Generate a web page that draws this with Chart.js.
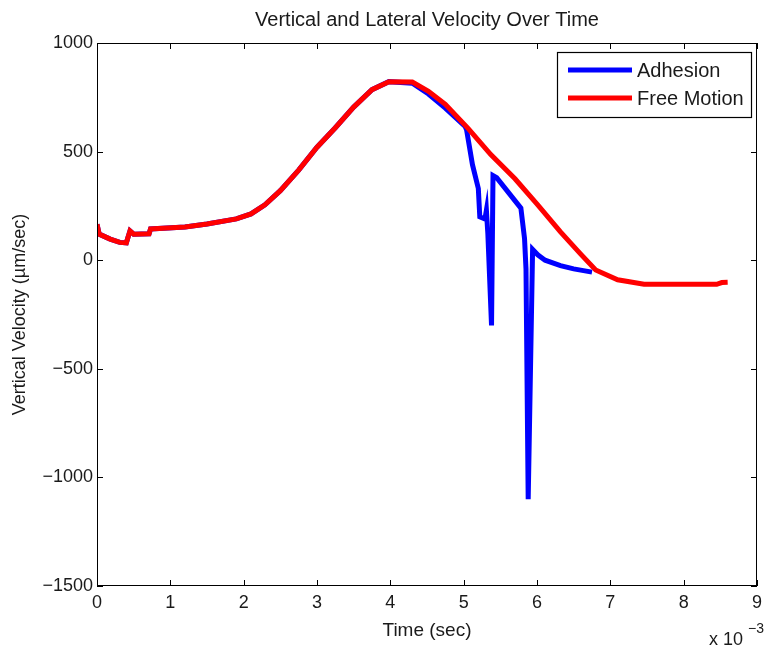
<!DOCTYPE html>
<html>
<head>
<meta charset="utf-8">
<script src="https://cdn.jsdelivr.net/npm/chart.js@4.4.0/dist/chart.umd.min.js"></script>
<style>
	body { margin: 0; background: #fff; }
	#canvas { display: block; }
</style>
</head>
<body>
<canvas id="canvas" width="768" height="652"></canvas>
<script>
// time in units of 1e-3 sec, velocity in um/sec
var freeTime = [0, 0.03, 0.18, 0.31, 0.40, 0.45, 0.50, 0.71, 0.73, 1.20, 1.50, 1.90, 2.10, 2.29, 2.50, 2.75, 3.00, 3.25, 3.50, 3.75, 3.98, 4.30, 4.52, 4.75, 5.06, 5.37, 5.70, 6.01, 6.32, 6.59, 6.80, 7.10, 7.46, 8.45, 8.52, 8.60];
var freeVel = [165, 120, 97, 82, 80, 135, 120, 122, 144, 153, 167, 190, 213, 255, 320, 415, 520, 610, 705, 785, 822, 820, 778, 718, 607, 486, 375, 255, 130, 30, -45, -90, -111, -111, -103, -102];

var adhTime = [0, 0.03, 0.18, 0.31, 0.40, 0.45, 0.50, 0.71, 0.73, 1.20, 1.50, 1.90, 2.10, 2.29, 2.50, 2.75, 3.00, 3.25, 3.50, 3.75, 3.98, 4.30, 4.52, 4.75, 5.02, 5.04, 5.12, 5.20, 5.22, 5.29, 5.31, 5.33, 5.38, 5.40, 5.45, 5.78, 5.83, 5.85, 5.88, 5.94, 6.01, 6.11, 6.32, 6.50, 6.75];
var adhVel = [165, 120, 97, 82, 80, 135, 120, 122, 144, 153, 167, 190, 213, 255, 320, 415, 520, 610, 705, 785, 822, 815, 765, 700, 616, 600, 440, 330, 200, 190, 230, 120, -300, 390, 380, 240, 100, -40, -1100, 50, 25, 0, -25, -40, -55];

var seriesNames = ["Adhesion", "Free Motion"];
var xTicks = [0, 1, 2, 3, 4, 5, 6, 7, 8, 9];
var yTicks = [-1500, -1000, -500, 0, 500, 1000];

var chartTitle = "Vertical and Lateral Velocity Over Time";
var xTitle = "Time (sec)";
var yTitle = "Vertical Velocity (\u00b5m/sec)";

var FONT = "'Liberation Sans', Arial, Helvetica, sans-serif";

function toPoints(xs, ys) {
	var pts = [];
	for (var i = 0; i < xs.length; i++) {
		pts.push({ x: xs[i], y: ys[i] });
	}
	return pts;
}

// matlab look: box, inward ticks on all sides, title, legend box, exponent
var matlabFrame = {
	id: "matlabFrame",
	afterDraw: function(chart) {
		var ctx = chart.ctx;
		var a = chart.chartArea;
		var xs = chart.scales.x, ys = chart.scales.y;
		var len = 6;
		ctx.save();
		ctx.strokeStyle = "#000";
		ctx.lineWidth = 1;
		ctx.strokeRect(a.left + 0.5, a.top + 0.5, a.right - a.left - 1, a.bottom - a.top - 1);
		ctx.beginPath();
		xTicks.forEach(function(v) {
			var px = Math.round(xs.getPixelForValue(v)) + 0.5;
			ctx.moveTo(px, a.bottom); ctx.lineTo(px, a.bottom - len);
			ctx.moveTo(px, a.top); ctx.lineTo(px, a.top + len);
		});
		yTicks.forEach(function(v) {
			var py = Math.round(ys.getPixelForValue(v)) + 0.5;
			ctx.moveTo(a.left, py); ctx.lineTo(a.left + len, py);
			ctx.moveTo(a.right, py); ctx.lineTo(a.right - len, py);
		});
		ctx.stroke();

		// title
		ctx.fillStyle = "#1a1a1a";
		ctx.font = "20px " + FONT;
		ctx.textAlign = "center";
		ctx.textBaseline = "middle";
		ctx.fillText(chartTitle, (a.left + a.right) / 2, 20);

		// x 10^-3
		ctx.textAlign = "left";
		ctx.textBaseline = "alphabetic";
		ctx.font = "18px " + FONT;
		ctx.fillText("x 10", 709, 645);
		ctx.font = "14px " + FONT;
		ctx.fillText("\u22123", 748, 633);

		// legend
		var lx = 557, ly = 52, lw = 194, lh = 65;
		ctx.fillStyle = "#fff";
		ctx.fillRect(lx, ly, lw, lh);
		ctx.strokeStyle = "#000";
		ctx.lineWidth = 1.2;
		ctx.strokeRect(lx + 0.5, ly + 0.5, lw, lh);
		chart.data.datasets.forEach(function(ds, i) {
			var yy = ly + 18 + i * 28;
			ctx.strokeStyle = ds.borderColor;
			ctx.lineWidth = 5;
			ctx.beginPath();
			ctx.moveTo(lx + 11, yy);
			ctx.lineTo(lx + 75, yy);
			ctx.stroke();
			ctx.fillStyle = "#1a1a1a";
			ctx.font = "20px " + FONT;
			ctx.textBaseline = "middle";
			ctx.fillText(ds.label, lx + 80, yy + 1);
		});
		ctx.restore();
	}
};

var ctx = document.getElementById("canvas").getContext("2d");
var myChart = new Chart(ctx, {
	type: "line",
	data: {
		datasets: [{
			label: seriesNames[0],
			data: toPoints(adhTime, adhVel),
			borderColor: "#0000ff",
			borderWidth: 5,
			pointRadius: 0,
			tension: 0,
			fill: false,
			order: 1
		}, {
			label: seriesNames[1],
			data: toPoints(freeTime, freeVel),
			borderColor: "#ff0000",
			borderWidth: 5,
			pointRadius: 0,
			tension: 0,
			fill: false,
			order: 0
		}]
	},
	options: {
		responsive: false,
		animation: false,
		layout: {
			padding: { top: 43, right: 8, left: 0, bottom: 0 }
		},
		plugins: {
			legend: { display: false },
			title: { display: false },
			tooltip: { enabled: false }
		},
		scales: {
			x: {
				type: "linear",
				min: 0,
				max: 9,
				afterFit: function(s) { s.height = 66; },
				afterBuildTicks: function(s) {
					s.ticks = xTicks.map(function(v) { return { value: v }; });
				},
				grid: { drawOnChartArea: false, drawTicks: false },
				border: { display: false },
				ticks: {
					color: "#1a1a1a",
					padding: 6,
					maxRotation: 0,
					font: { family: FONT, size: 18 }
				},
				title: {
					display: true,
					text: xTitle,
					color: "#1a1a1a",
					font: { family: FONT, size: 19 },
					padding: { top: 0, bottom: 10 }
				}
			},
			y: {
				type: "linear",
				min: -1500,
				max: 1000,
				afterFit: function(s) { s.width = 97; },
				afterBuildTicks: function(s) {
					s.ticks = yTicks.map(function(v) { return { value: v }; });
				},
				grid: { drawOnChartArea: false, drawTicks: false },
				border: { display: false },
				ticks: {
					color: "#1a1a1a",
					padding: 4,
					font: { family: FONT, size: 18 },
					callback: function(v) { return String(v).replace("-", "\u2212"); }
				},
				title: {
					display: true,
					text: yTitle,
					color: "#1a1a1a",
					font: { family: FONT, size: 18 },
					padding: { top: 9, bottom: 0 }
				}
			}
		}
	},
	plugins: [matlabFrame]
});
</script>
</body>
</html>
